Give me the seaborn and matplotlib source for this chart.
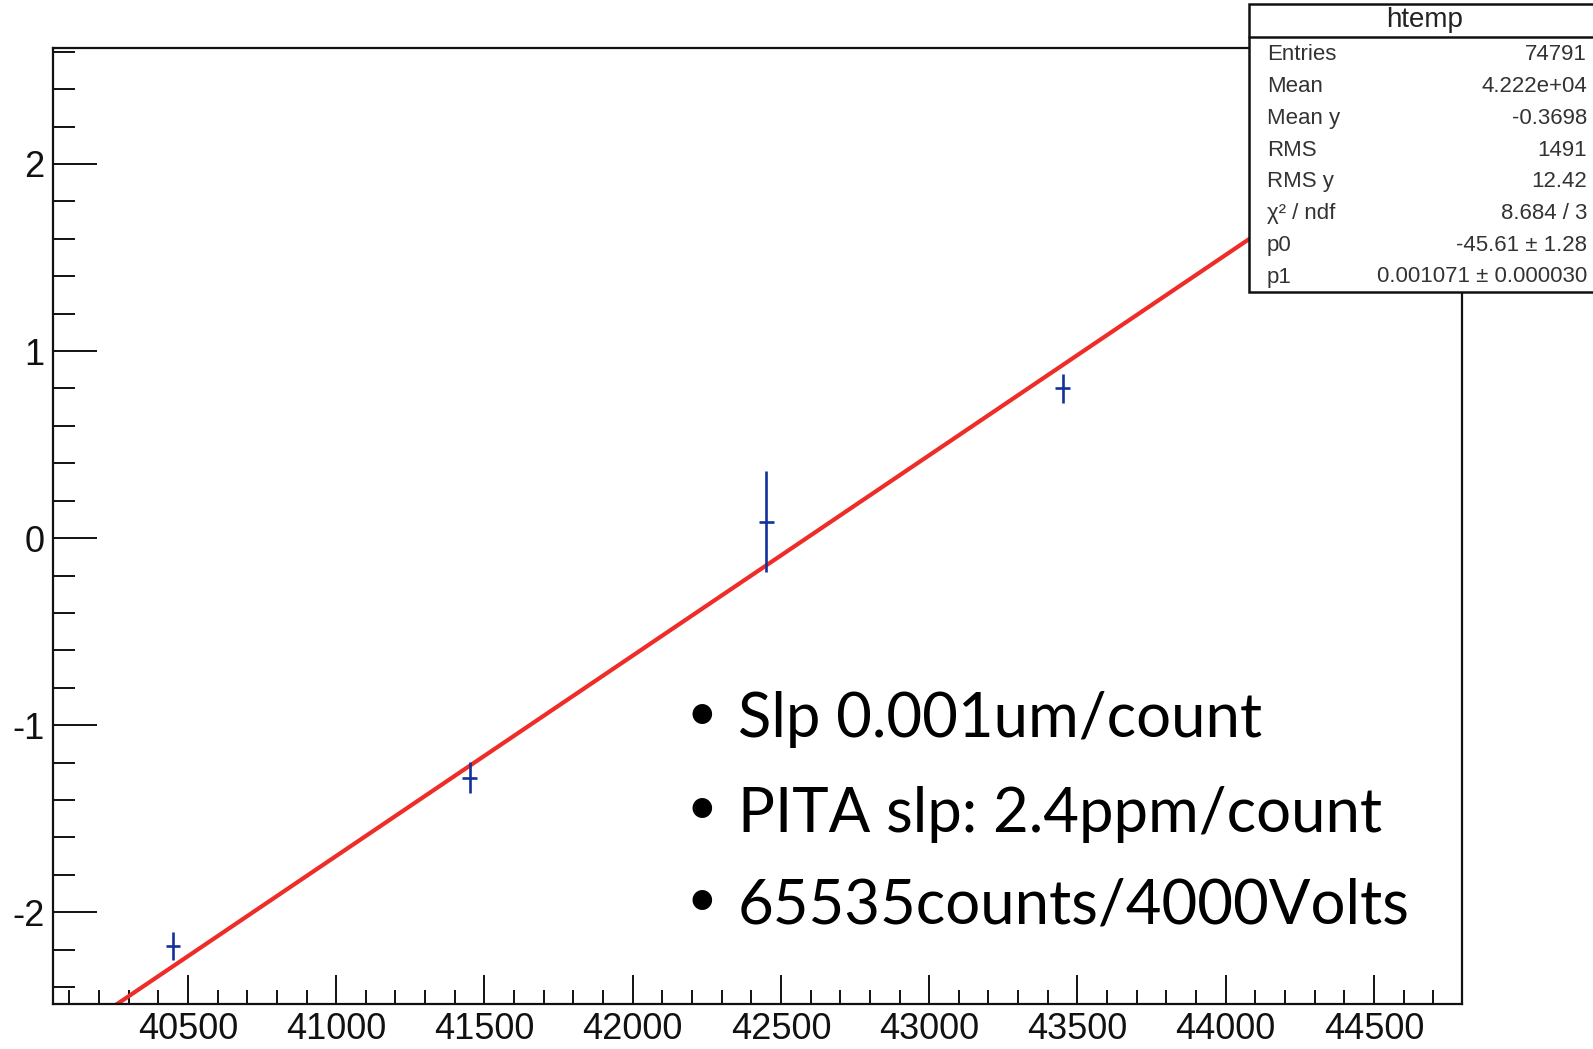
import numpy as np
import pandas as pd
import matplotlib
matplotlib.use("Agg")
import matplotlib.pyplot as plt
from matplotlib.ticker import MultipleLocator
from matplotlib.patches import Rectangle
from matplotlib.lines import Line2D
import seaborn as sns

# Profile bins: centre, mean and error on the mean
bin_centers = [40450, 41450, 42450, 43450]
bin_means = [-2.18, -1.28, 0.087, 0.80]
bin_errors = [0.075, 0.083, 0.27, 0.078]
bin_half_width = 25

# Straight-line fit y = p0 + p1 * x
p0 = -45.61
p1 = 0.001071

# Statistics box
stat_title = "htemp"
stat_labels = ["Entries", "Mean", "Mean y", "RMS", "RMS y", "χ² / ndf", "p0", "p1"]
stat_values = ["74791", "4.222e+04", "-0.3698", "1491", "12.42", "8.684 / 3",
               "-45.61 ± 1.28", "0.001071 ± 0.000030"]

# Notes
notes = ["Slp 0.001um/count", "PITA slp: 2.4ppm/count", "65535counts/4000Volts"]

x_range = (40045, 44797)
y_range = (-2.49, 2.62)

sns.set_style("white")
plt.rcParams["font.family"] = ["Liberation Sans", "DejaVu Sans"]
plt.rcParams["axes.unicode_minus"] = False

W, H = 1593, 1049
fig = plt.figure(figsize=(W / 100, H / 100), dpi=100)
ax = fig.add_axes([53 / W, 1 - 1004 / H, (1462 - 53) / W, (1004 - 48) / H])

# fitted function over the full x range
fx = np.linspace(x_range[0], x_range[1], 600)
fit_df = pd.DataFrame({"x": fx, "y": p0 + p1 * fx})
sns.lineplot(data=fit_df, x="x", y="y", color="#ee2c28", lw=3.0, ax=ax,
             zorder=2, legend=False)

# profile points
ax.errorbar(bin_centers, bin_means, yerr=bin_errors, xerr=bin_half_width,
            fmt="none", ecolor="#14309a", elinewidth=1.9, capsize=0, zorder=3)

ax.set_xlim(*x_range)
ax.set_ylim(*y_range)
ax.set_xlabel("")
ax.set_ylabel("")

ax.xaxis.set_major_locator(MultipleLocator(500))
ax.xaxis.set_minor_locator(MultipleLocator(100))
ax.yaxis.set_major_locator(MultipleLocator(1))
ax.yaxis.set_minor_locator(MultipleLocator(0.2))

ax.tick_params(axis="x", which="major", direction="in", length=21, width=1.4,
               pad=6, labelsize=26, colors="#111111", bottom=True, top=False)
ax.tick_params(axis="x", which="minor", direction="in", length=10, width=1.4,
               colors="#111111", bottom=True, top=False)
ax.tick_params(axis="y", which="major", direction="in", length=31.5, width=1.4,
               pad=6, labelsize=26, colors="#111111", left=True, right=False)
ax.tick_params(axis="y", which="minor", direction="in", length=16, width=1.4,
               colors="#111111", left=True, right=False)

for side in ["left", "bottom", "top", "right"]:
    ax.spines[side].set_visible(True)
    ax.spines[side].set_color("#111111")
    ax.spines[side].set_linewidth(1.6)

# statistics box in figure coordinates
bx0, by_top, by_bot = 1249, 4, 292
fig.add_artist(Rectangle((bx0 / W, 1 - by_bot / H), (W + 20 - bx0) / W,
                         (by_bot - by_top) / H, transform=fig.transFigure,
                         facecolor="white", edgecolor="#111111", lw=1.8,
                         zorder=10))
fig.add_artist(Line2D([bx0 / W, 1.0], [1 - 37 / H, 1 - 37 / H],
                      transform=fig.transFigure, color="#111111", lw=1.8,
                      zorder=11))
fig.text(1425 / W, 1 - 20 / H, stat_title, ha="center", va="center",
         fontsize=20, color="#222222", zorder=12)
row_y = np.linspace(55, 277, len(stat_labels))
for lab, val, yy in zip(stat_labels, stat_values, row_y):
    fig.text(1267 / W, 1 - yy / H, lab, ha="left", va="center",
             fontsize=16, color="#333333", zorder=12)
    fig.text(1587 / W, 1 - yy / H, val, ha="right", va="center",
             fontsize=16, color="#333333", zorder=12)

# bullet notes
baselines = [737, 832, 924]
for txt, base in zip(notes, baselines):
    fig.text(702 / W, 1 - (base - 22) / H, "•", ha="center", va="center",
             fontsize=38, color="black", family="Lato", zorder=5)
    fig.text(738 / W, 1 - base / H, txt, ha="left", va="baseline",
             fontsize=44.4, color="black", family="Lato", zorder=5)

fig.savefig("out.png", dpi=100, facecolor="white")
